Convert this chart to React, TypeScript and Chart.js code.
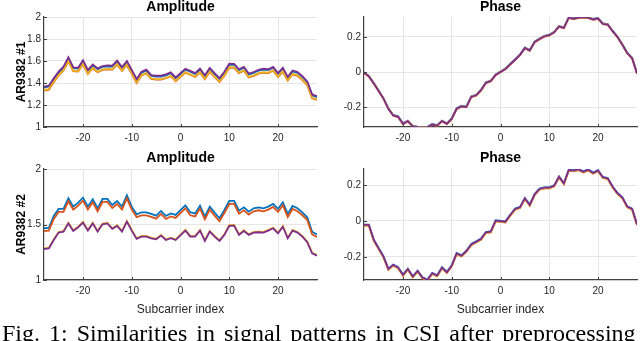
import React, { useEffect, useRef } from "react";
import { Chart, registerables } from "chart.js";

Chart.register(...registerables);

// ---------------- data ----------------
const SUBCARRIERS = [
  -28, -27, -26, -25, -24, -23, -22, -21, -20, -19, -18, -17, -16, -15, -14, -13, -12, -11, -10, -9, -8, -7, -6, -5, -4, -3, -2, -1,
  1, 2, 3, 4, 5, 6, 7, 8, 9, 10, 11, 12, 13, 14, 15, 16, 17, 18, 19, 20, 21, 22, 23, 24, 25, 26, 27, 28,
];

const SERIES_NAMES = ["Packet 1", "Packet 2", "Packet 3", "Packet 4"];
const SERIES_COLORS = ["#0072BD", "#D95319", "#EDB120", "#7E2F8E"];

// AR9382 #1 amplitude
const AMP1_BLUE = [1.357,1.368,1.434,1.495,1.540,1.625,1.534,1.531,1.598,1.511,1.561,1.525,1.546,1.552,1.549,1.595,1.537,1.592,1.510,1.428,1.495,1.513,1.464,1.458,1.459,1.470,1.489,1.443,
  1.522,1.502,1.482,1.522,1.462,1.529,1.481,1.437,1.494,1.567,1.566,1.517,1.539,1.478,1.492,1.512,1.522,1.517,1.539,1.482,1.530,1.448,1.506,1.492,1.454,1.406,1.289,1.272];
const AMP1_ORANGE = [1.331,1.340,1.407,1.468,1.513,1.597,1.507,1.504,1.570,1.483,1.534,1.498,1.519,1.525,1.522,1.567,1.510,1.564,1.483,1.401,1.468,1.486,1.437,1.431,1.431,1.443,1.462,1.416,
  1.494,1.475,1.455,1.494,1.435,1.501,1.454,1.410,1.467,1.539,1.538,1.490,1.511,1.451,1.465,1.485,1.494,1.490,1.511,1.455,1.502,1.421,1.479,1.465,1.427,1.380,1.262,1.247];
const AMP1_YELLOW = [1.336,1.345,1.411,1.472,1.517,1.602,1.511,1.508,1.575,1.487,1.538,1.502,1.523,1.529,1.526,1.572,1.514,1.569,1.487,1.405,1.472,1.490,1.441,1.435,1.435,1.447,1.466,1.420,
  1.499,1.479,1.459,1.499,1.439,1.506,1.458,1.414,1.471,1.544,1.543,1.494,1.516,1.455,1.469,1.489,1.499,1.494,1.516,1.459,1.507,1.425,1.483,1.469,1.431,1.384,1.266,1.250];
const AMP1_PURPLE = [1.366,1.375,1.442,1.503,1.548,1.633,1.542,1.539,1.606,1.518,1.569,1.533,1.554,1.560,1.557,1.603,1.545,1.600,1.518,1.436,1.503,1.521,1.472,1.466,1.466,1.478,1.497,1.451,
  1.530,1.510,1.490,1.530,1.470,1.537,1.489,1.445,1.502,1.575,1.574,1.525,1.547,1.486,1.500,1.520,1.530,1.525,1.547,1.490,1.538,1.456,1.514,1.500,1.462,1.414,1.296,1.280];

// AR9382 #1 phase
const PHASE1_BLUE = [-0.001,-0.022,-0.062,-0.105,-0.149,-0.207,-0.245,-0.253,-0.293,-0.277,-0.307,-0.312,-0.313,-0.313,-0.297,-0.303,-0.277,-0.293,-0.264,-0.207,-0.193,-0.197,-0.139,-0.130,-0.101,-0.059,-0.049,-0.014,
  0.020,0.047,0.073,0.101,0.140,0.126,0.174,0.191,0.207,0.213,0.230,0.263,0.255,0.313,0.307,0.313,0.316,0.313,0.303,0.309,0.278,0.274,0.236,0.203,0.159,0.111,0.082,-0.005];
const PHASE1_ORANGE = [-0.006,-0.027,-0.067,-0.110,-0.154,-0.212,-0.250,-0.258,-0.298,-0.282,-0.312,-0.317,-0.318,-0.318,-0.302,-0.308,-0.282,-0.298,-0.269,-0.212,-0.198,-0.202,-0.144,-0.135,-0.106,-0.064,-0.054,-0.019,
  0.015,0.042,0.068,0.096,0.135,0.121,0.169,0.186,0.202,0.208,0.225,0.258,0.250,0.308,0.302,0.308,0.311,0.308,0.298,0.304,0.273,0.269,0.231,0.198,0.154,0.106,0.077,-0.010];
const PHASE1_YELLOW = [-0.003,-0.024,-0.064,-0.107,-0.151,-0.209,-0.247,-0.255,-0.295,-0.279,-0.309,-0.314,-0.315,-0.315,-0.299,-0.305,-0.279,-0.295,-0.266,-0.209,-0.195,-0.199,-0.141,-0.132,-0.103,-0.061,-0.051,-0.016,
  0.018,0.045,0.071,0.099,0.138,0.124,0.172,0.189,0.205,0.211,0.228,0.261,0.253,0.311,0.305,0.311,0.314,0.311,0.301,0.307,0.276,0.272,0.234,0.201,0.157,0.109,0.080,-0.007];
const PHASE1_PURPLE = [-0.004,-0.025,-0.065,-0.108,-0.152,-0.210,-0.248,-0.256,-0.296,-0.280,-0.310,-0.315,-0.316,-0.316,-0.300,-0.306,-0.280,-0.296,-0.267,-0.210,-0.196,-0.200,-0.142,-0.133,-0.104,-0.062,-0.052,-0.017,
  0.017,0.044,0.070,0.098,0.137,0.123,0.171,0.188,0.204,0.210,0.227,0.260,0.252,0.310,0.304,0.310,0.313,0.310,0.300,0.306,0.275,0.271,0.233,0.200,0.156,0.108,0.079,-0.008];

// AR9382 #2 amplitude
const AMP2_BLUE = [1.466,1.470,1.577,1.640,1.640,1.736,1.661,1.697,1.742,1.661,1.727,1.646,1.730,1.730,1.676,1.712,1.661,1.763,1.661,1.592,1.610,1.610,1.595,1.580,1.622,1.577,1.600,1.586,
  1.673,1.610,1.600,1.670,1.571,1.661,1.607,1.556,1.631,1.712,1.712,1.625,1.655,1.616,1.646,1.655,1.646,1.661,1.685,1.640,1.700,1.595,1.667,1.646,1.610,1.565,1.435,1.410];
const AMP2_ORANGE = [1.440,1.444,1.550,1.613,1.614,1.709,1.634,1.670,1.715,1.634,1.700,1.619,1.703,1.703,1.649,1.685,1.634,1.736,1.634,1.566,1.583,1.583,1.568,1.553,1.595,1.550,1.573,1.559,
  1.646,1.583,1.573,1.643,1.545,1.634,1.580,1.529,1.604,1.685,1.685,1.598,1.628,1.589,1.619,1.628,1.619,1.634,1.658,1.613,1.673,1.568,1.640,1.619,1.583,1.540,1.412,1.388];
const AMP2_YELLOW = [1.285,1.291,1.366,1.433,1.442,1.517,1.448,1.481,1.523,1.451,1.516,1.442,1.508,1.517,1.466,1.493,1.442,1.532,1.451,1.376,1.397,1.397,1.382,1.373,1.406,1.366,1.382,1.366,
  1.452,1.397,1.397,1.451,1.358,1.442,1.397,1.358,1.412,1.494,1.497,1.412,1.448,1.412,1.433,1.436,1.433,1.451,1.472,1.426,1.486,1.382,1.451,1.433,1.397,1.346,1.246,1.225];
const AMP2_PURPLE = [1.279,1.285,1.360,1.427,1.436,1.510,1.442,1.475,1.517,1.445,1.510,1.436,1.502,1.510,1.460,1.487,1.436,1.526,1.445,1.370,1.391,1.391,1.376,1.367,1.400,1.360,1.376,1.360,
  1.445,1.391,1.391,1.445,1.352,1.436,1.391,1.352,1.406,1.487,1.490,1.406,1.442,1.406,1.427,1.430,1.427,1.445,1.466,1.420,1.480,1.376,1.445,1.427,1.391,1.340,1.240,1.220];

// AR9382 #2 phase
const PHASE2_BLUE = [-0.020,-0.020,-0.103,-0.150,-0.196,-0.265,-0.242,-0.257,-0.298,-0.265,-0.307,-0.276,-0.313,-0.326,-0.288,-0.302,-0.257,-0.283,-0.246,-0.178,-0.191,-0.165,-0.128,-0.113,-0.098,-0.061,-0.057,0.004,
  -0.002,0.035,0.069,0.078,0.128,0.091,0.150,0.180,0.187,0.187,0.198,0.248,0.211,0.285,0.282,0.289,0.276,0.287,0.269,0.283,0.245,0.239,0.192,0.156,0.132,0.082,0.069,-0.017];
const PHASE2_ORANGE = [-0.026,-0.026,-0.109,-0.156,-0.202,-0.271,-0.248,-0.263,-0.304,-0.271,-0.313,-0.282,-0.319,-0.331,-0.294,-0.308,-0.263,-0.289,-0.252,-0.184,-0.197,-0.171,-0.134,-0.119,-0.104,-0.067,-0.063,-0.002,
  -0.008,0.029,0.063,0.072,0.122,0.085,0.144,0.174,0.181,0.181,0.192,0.242,0.205,0.279,0.276,0.283,0.270,0.281,0.263,0.277,0.239,0.233,0.186,0.150,0.126,0.076,0.063,-0.023];
const PHASE2_YELLOW = [-0.025,-0.025,-0.108,-0.155,-0.201,-0.270,-0.247,-0.262,-0.303,-0.270,-0.312,-0.281,-0.318,-0.330,-0.293,-0.307,-0.262,-0.288,-0.251,-0.183,-0.196,-0.170,-0.133,-0.118,-0.103,-0.066,-0.062,-0.001,
  -0.007,0.030,0.064,0.073,0.123,0.086,0.145,0.175,0.182,0.182,0.193,0.243,0.206,0.280,0.277,0.284,0.271,0.282,0.264,0.278,0.240,0.234,0.187,0.151,0.127,0.077,0.064,-0.022];
const PHASE2_PURPLE = [-0.022,-0.022,-0.105,-0.152,-0.198,-0.267,-0.244,-0.259,-0.300,-0.267,-0.309,-0.278,-0.315,-0.328,-0.290,-0.304,-0.259,-0.285,-0.248,-0.180,-0.193,-0.167,-0.130,-0.115,-0.100,-0.063,-0.059,0.002,
  -0.004,0.033,0.067,0.076,0.126,0.089,0.148,0.178,0.185,0.185,0.196,0.246,0.209,0.283,0.280,0.287,0.274,0.285,0.267,0.281,0.243,0.237,0.190,0.154,0.130,0.080,0.067,-0.019];

// axes
const X_RANGE = [-28, 28];
const X_TICKS = [-20, -10, 0, 10, 20];
const X_TICK_LABELS = ["-20", "-10", "0", "10", "20"];
const AMP1_RANGE = [1, 2];
const AMP1_TICKS = [1, 1.2, 1.4, 1.6, 1.8, 2];
const AMP1_TICK_LABELS = ["1", "1.2", "1.4", "1.6", "1.8", "2"];
const AMP2_RANGE = [1, 2];
const AMP2_TICKS = [1, 1.5, 2];
const AMP2_TICK_LABELS = ["1", "1.5", "2"];
const PHASE1_RANGE = [-0.314, 0.314];
const PHASE2_RANGE = [-0.328, 0.289];
const PHASE_TICKS = [-0.2, 0, 0.2];
const PHASE_TICK_LABELS = ["-0.2", "0", "0.2"];

const CAPTION = "Fig. 1: Similarities in signal patterns in CSI after preprocessing";

// ---------------- rendering ----------------
const SANS = "'Liberation Sans', Arial, Helvetica, sans-serif";
const AXIS_COLOR = "#404040";
const GRID_COLOR = "#e6e6e6";

const inwardTicks = {
  id: "inwardTicks",
  afterDatasetsDraw(chart: any) {
    const { ctx, chartArea: a, scales } = chart;
    const x = scales.x;
    const y = scales.y;
    ctx.save();
    ctx.strokeStyle = AXIS_COLOR;
    ctx.lineWidth = 1;
    ctx.beginPath();
    x.ticks.forEach((t: any) => {
      const px = Math.round(x.getPixelForValue(t.value)) + 0.5;
      ctx.moveTo(px, a.bottom);
      ctx.lineTo(px, a.bottom - 3);
    });
    y.ticks.forEach((t: any) => {
      const py = Math.round(y.getPixelForValue(t.value)) + 0.5;
      ctx.moveTo(a.left, py);
      ctx.lineTo(a.left + 3, py);
    });
    ctx.stroke();
    ctx.restore();
  },
};

type PanelProps = {
  left: number;
  top: number;
  width: number;
  height: number;
  title: string;
  titlePadTop: number;
  titlePadBottom: number;
  yTitle?: string;
  xTitle?: string;
  xAxisHeight: number;
  series: number[][];
  yRange: number[];
  yTicks: number[];
  yTickLabels: string[];
};

function Panel(p: PanelProps) {
  const ref = useRef<HTMLCanvasElement | null>(null);
  useEffect(() => {
    if (!ref.current) return;
    const datasets = p.series.map((vals, i) => ({
      label: SERIES_NAMES[i],
      data: SUBCARRIERS.map((x, j) => ({ x, y: vals[j] })),
      borderColor: SERIES_COLORS[i],
      backgroundColor: SERIES_COLORS[i],
      borderWidth: 1.8,
      pointRadius: 0,
      tension: 0,
      fill: false,
      order: p.series.length - 1 - i,
    }));
    const chart = new Chart(ref.current, {
      type: "line",
      data: { datasets },
      options: {
        responsive: false,
        animation: false,
        devicePixelRatio: 1,
        layout: { padding: { left: 0, right: 3, top: 0, bottom: 0 } },
        plugins: {
          legend: { display: false },
          tooltip: { enabled: false },
          title: {
            display: true,
            text: p.title,
            fullSize: false,
            color: "#000000",
            font: { family: SANS, size: 14, weight: "bold", lineHeight: 1 },
            padding: { top: p.titlePadTop, bottom: p.titlePadBottom },
          },
        },
        scales: {
          x: {
            type: "linear",
            min: X_RANGE[0],
            max: X_RANGE[1],
            afterBuildTicks: (axis: any) => {
              axis.ticks = X_TICKS.map((v) => ({ value: v }));
            },
            afterFit: (s: any) => {
              s.height = p.xAxisHeight;
            },
            ticks: {
              autoSkip: false,
              maxRotation: 0,
              padding: 5,
              color: "#262626",
              font: { family: SANS, size: 10 },
              callback: (_v: any, i: number) => X_TICK_LABELS[i],
            },
            grid: { color: GRID_COLOR, drawTicks: false, lineWidth: 1 },
            border: { color: AXIS_COLOR, width: 1.2 },
            title: p.xTitle
              ? {
                  display: true,
                  text: p.xTitle,
                  color: "#262626",
                  font: { family: SANS, size: 12 },
                  padding: { top: 0, bottom: 23.8 },
                }
              : { display: false },
          },
          y: {
            type: "linear",
            min: p.yRange[0],
            max: p.yRange[1],
            afterBuildTicks: (axis: any) => {
              axis.ticks = p.yTicks.map((v) => ({ value: v }));
            },
            afterFit: (s: any) => {
              s.width = 44;
            },
            ticks: {
              autoSkip: false,
              padding: 3,
              color: "#262626",
              font: { family: SANS, size: 10 },
              callback: (_v: any, i: number) => p.yTickLabels[i],
            },
            grid: { color: GRID_COLOR, drawTicks: false, lineWidth: 1 },
            border: { color: AXIS_COLOR, width: 1.2 },
            title: p.yTitle
              ? {
                  display: true,
                  text: p.yTitle,
                  color: "#000000",
                  font: { family: SANS, size: 12, weight: "bold" },
                  padding: { top: 14, bottom: 0 },
                }
              : { display: false },
          },
        },
      } as any,
      plugins: [inwardTicks],
    });
    return () => chart.destroy();
  }, []);
  return (
    <canvas
      ref={ref}
      width={p.width}
      height={p.height}
      style={{ position: "absolute", left: p.left, top: p.top, width: p.width, height: p.height }}
    />
  );
}

export default function App() {
  return (
    <div
      style={{
        position: "fixed",
        left: 0,
        top: 0,
        width: 640,
        height: 341,
        overflow: "hidden",
        background: "#ffffff",
      }}
    >
      <Panel
        left={0}
        top={0}
        width={320}
        height={145}
        title="Amplitude"
        titlePadTop={0}
        titlePadBottom={3}
        yTitle="AR9382 #1"
        xAxisHeight={18}
        series={[AMP1_BLUE, AMP1_ORANGE, AMP1_YELLOW, AMP1_PURPLE]}
        yRange={AMP1_RANGE}
        yTicks={AMP1_TICKS}
        yTickLabels={AMP1_TICK_LABELS}
      />
      <Panel
        left={320}
        top={0}
        width={320}
        height={145}
        title="Phase"
        titlePadTop={0}
        titlePadBottom={3}
        xAxisHeight={18}
        series={[PHASE1_BLUE, PHASE1_ORANGE, PHASE1_YELLOW, PHASE1_PURPLE]}
        yRange={PHASE1_RANGE}
        yTicks={PHASE_TICKS}
        yTickLabels={PHASE_TICK_LABELS}
      />
      <Panel
        left={0}
        top={145}
        width={320}
        height={196}
        title="Amplitude"
        titlePadTop={6}
        titlePadBottom={4}
        yTitle="AR9382 #2"
        xTitle="Subcarrier index"
        xAxisHeight={61}
        series={[AMP2_BLUE, AMP2_ORANGE, AMP2_YELLOW, AMP2_PURPLE]}
        yRange={AMP2_RANGE}
        yTicks={AMP2_TICKS}
        yTickLabels={AMP2_TICK_LABELS}
      />
      <Panel
        left={320}
        top={145}
        width={320}
        height={196}
        title="Phase"
        titlePadTop={6}
        titlePadBottom={4}
        xTitle="Subcarrier index"
        xAxisHeight={61}
        series={[PHASE2_BLUE, PHASE2_ORANGE, PHASE2_YELLOW, PHASE2_PURPLE]}
        yRange={PHASE2_RANGE}
        yTicks={PHASE_TICKS}
        yTickLabels={PHASE_TICK_LABELS}
      />
      <div
        style={{
          position: "absolute",
          left: 2,
          top: 320,
          width: 700,
          whiteSpace: "nowrap",
          fontFamily: "'Liberation Serif', 'Times New Roman', Times, serif",
          fontSize: 24,
          wordSpacing: 3,
          color: "#000000",
        }}
      >
        {CAPTION}
      </div>
    </div>
  );
}
